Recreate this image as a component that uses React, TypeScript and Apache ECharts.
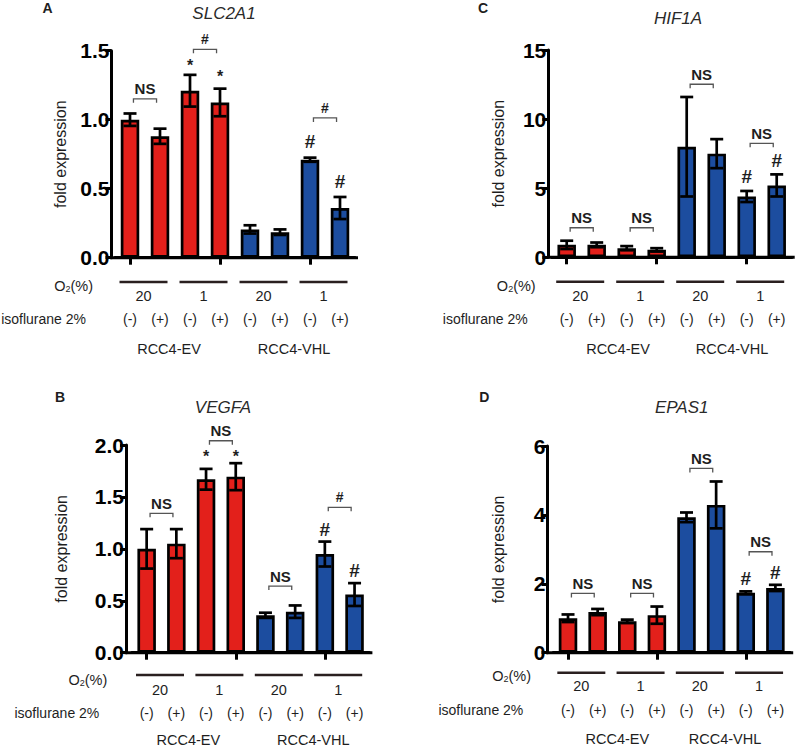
import React, { useEffect, useRef } from 'react';
import * as echarts from 'echarts';

// ---- data ----
const categories = ['EV-20-', 'EV-20+', 'EV-1-', 'EV-1+', 'VHL-20-', 'VHL-20+', 'VHL-1-', 'VHL-1+'];
const isoLabels = ['(-)', '(+)', '(-)', '(+)', '(-)', '(+)', '(-)', '(+)'];
const o2Labels = ['20', '1', '20', '1'];
const cellLines = ['RCC4-EV', 'RCC4-VHL'];

const slc2a1Mean = [1.0, 0.88, 1.21, 1.125, 0.205, 0.185, 0.71, 0.36];
const slc2a1Err = [0.045, 0.055, 0.115, 0.1, 0.03, 0.02, 0.015, 0.08];
const slc2a1Brackets: [number, number, number, string][] = [[0, 1, 1.151, 'NS'], [2, 3, 1.51, '#'], [6, 7, 1.013, '#']];
const slc2a1Marks: [number, number, string][] = [[2, 1.417, '*'], [3, 1.335, '*'], [6, 0.843, '#'], [7, 0.552, '#']];

const hif1aMean = [0.9, 0.9, 0.66, 0.54, 8.0, 7.5, 4.4, 5.2];
const hif1aErr = [0.3, 0.17, 0.15, 0.12, 3.6, 1.05, 0.4, 0.8];
const hif1aBrackets: [number, number, number, string][] = [[0, 1, 2.14, 'NS'], [2, 3, 2.14, 'NS'], [4, 5, 12.52, 'NS'], [6, 7, 8.25, 'NS']];
const hif1aMarks: [number, number, string][] = [[6, 5.83, '#'], [7, 6.99, '#']];

const vegfaMean = [1.0, 1.05, 1.67, 1.695, 0.36, 0.395, 0.95, 0.56];
const vegfaErr = [0.19, 0.14, 0.1, 0.13, 0.025, 0.06, 0.12, 0.11];
const vegfaBrackets: [number, number, number, string][] = [[0, 1, 1.342, 'NS'], [2, 3, 2.041, 'NS'], [4, 5, 0.642, 'NS'], [6, 7, 1.4, '#']];
const vegfaMarks: [number, number, string][] = [[2, 1.92, '*'], [3, 1.92, '*'], [6, 1.191, '#'], [7, 0.796, '#']];

const epas1Mean = [1.0, 1.18, 0.91, 1.09, 3.93, 4.29, 1.74, 1.88];
const epas1Err = [0.11, 0.09, 0.05, 0.25, 0.14, 0.68, 0.04, 0.09];
const epas1Brackets: [number, number, number, string][] = [[0, 1, 1.72, 'NS'], [2, 3, 1.72, 'NS'], [4, 5, 5.35, 'NS'], [6, 7, 2.93, 'NS']];
const epas1Marks: [number, number, string][] = [[6, 2.16, '#'], [7, 2.32, '#']];

// ---- layout / style ----
const RED = '#e3201b';
const BLUE = '#1c4d9f';
const FONT = 'Liberation Sans, Arial, Helvetica, sans-serif';
const TXT = '#1e1e1e';

const panels = [
  {
    letter: 'A', title: 'SLC2A1', mean: slc2a1Mean, err: slc2a1Err, brackets: slc2a1Brackets, marks: slc2a1Marks,
    max: 1.5, interval: 0.5, decimals: 1,
    axisX: 111.5, left: 115, width: 240, top: 50.7, bottom: 257.7, nameGap: 43,
    letterPos: [47.5, 7.5], titlePos: [224, 13],
    sepY: 282, numY: 296, o2: [93, 286], isoY: 319, isoRight: 86, rccY: 349, rccX: [169, 294],
  },
  {
    letter: 'C', title: 'HIF1A', mean: hif1aMean, err: hif1aErr, brackets: hif1aBrackets, marks: hif1aMarks,
    max: 15, interval: 5, decimals: 0,
    axisX: 548.3, left: 551.7, width: 240, top: 50, bottom: 257.3, nameGap: 42,
    letterPos: [483, 7.5], titlePos: [678, 18],
    sepY: 281.7, numY: 295.7, o2: [535.7, 285.7], isoY: 319.3, isoRight: 527.7, rccY: 349, rccX: [618, 732],
  },
  {
    letter: 'B', title: 'VEGFA', mean: vegfaMean, err: vegfaErr, brackets: vegfaBrackets, marks: vegfaMarks,
    max: 2.0, interval: 0.5, decimals: 1,
    axisX: 126, left: 131.8, width: 237.6, top: 445, bottom: 652.7, nameGap: 57,
    letterPos: [60, 396.7], titlePos: [223, 407.7],
    sepY: 675, numY: 690, o2: [107.3, 680], isoY: 713.3, isoRight: 99.3, rccY: 740, rccX: [188.3, 313.3],
  },
  {
    letter: 'D', title: 'EPAS1', mean: epas1Mean, err: epas1Err, brackets: epas1Brackets, marks: epas1Marks,
    max: 6, interval: 2, decimals: 0,
    axisX: 547.5, left: 553.2, width: 237, top: 446, bottom: 652.7, nameGap: 41,
    letterPos: [484.3, 396.7], titlePos: [681.7, 407.7],
    sepY: 672.7, numY: 686, o2: [531, 676], isoY: 710, isoRight: 523.3, rccY: 739, rccX: [617.3, 725],
  },
];

function buildOption() {
  const grid: any[] = [];
  const xAxis: any[] = [];
  const yAxis: any[] = [];
  const series: any[] = [];
  const graphic: any[] = [];

  panels.forEach((p, k) => {
    const spacing = p.width / 8;
    const cx = (i: number) => p.left + spacing * (i + 0.5);
    grid.push({ left: p.left, top: p.top, width: p.width, height: p.bottom - p.top });
    xAxis.push({
      gridIndex: k, type: 'category', data: categories,
      axisLine: { show: true, lineStyle: { color: '#000', width: 3 } },
      axisTick: { show: true, alignWithLabel: true, length: 7, lineStyle: { color: '#000', width: 3 } },
      axisLabel: { show: false }, splitLine: { show: false },
    });
    yAxis.push({
      gridIndex: k, type: 'value', min: 0, max: p.max, interval: p.interval,
      offset: p.left - p.axisX,
      name: 'fold expression', nameLocation: 'middle', nameGap: p.nameGap,
      nameTextStyle: { fontSize: 16, color: TXT, fontFamily: FONT },
      axisLine: { show: true, lineStyle: { color: '#000', width: 3 } },
      axisTick: { show: true, length: 6, lineStyle: { color: '#000', width: 3 } },
      axisLabel: {
        fontSize: 21, fontWeight: 'bold', color: '#000', margin: 2, fontFamily: FONT,
        formatter: (v: number) => v.toFixed(p.decimals),
      },
      splitLine: { show: false },
    });

    series.push({
      type: 'bar', xAxisIndex: k, yAxisIndex: k, barWidth: 18.5, z: 2,
      data: p.mean.map((v, i) => ({ value: v, itemStyle: { color: i < 4 ? RED : BLUE } })),
      itemStyle: { borderColor: '#000', borderWidth: 2.7 },
    });

    const errData = p.mean.map((v, i) => [i, v, p.err[i]]);
    series.push({
      type: 'custom', xAxisIndex: k, yAxisIndex: k, z: 3, data: errData,
      renderItem: (params: any, api: any) => {
        const i = api.value(0), v = api.value(1), e = api.value(2);
        const t = api.coord([i, v + e]);
        const b = api.coord([i, v - e]);
        const hw = 6.5;
        const st = { stroke: '#000', lineWidth: 2.7 };
        return {
          type: 'group', children: [
            { type: 'line', shape: { x1: t[0], y1: t[1], x2: b[0], y2: b[1] }, style: st },
            { type: 'line', shape: { x1: t[0] - hw, y1: t[1], x2: t[0] + hw, y2: t[1] }, style: st },
            { type: 'line', shape: { x1: b[0] - hw, y1: b[1], x2: b[0] + hw, y2: b[1] }, style: st },
          ],
        };
      },
    });

    const br = p.brackets;
    series.push({
      type: 'custom', xAxisIndex: k, yAxisIndex: k, z: 4, clip: false,
      data: br.map((b) => [b[0], b[1], b[2]]),
      renderItem: (params: any, api: any) => {
        const b = br[params.dataIndex];
        const a = api.coord([b[0], b[2]]);
        const c = api.coord([b[1], b[2]]);
        const mid = (a[0] + c[0]) / 2;
        const half = (c[0] - a[0]) * 0.385;
        const y = a[1];
        const st = { stroke: '#555', lineWidth: 1.3, fill: 'none' };
        const isNS = b[3] === 'NS';
        return {
          type: 'group', children: [
            { type: 'polyline', shape: { points: [[mid - half, y + 4], [mid - half, y], [mid + half, y], [mid + half, y + 4]] }, style: st },
            {
              type: 'text', x: mid, y: y - 10,
              style: {
                text: b[3], fill: TXT, align: 'center', verticalAlign: 'middle',
                font: `bold ${isNS ? 15 : 14}px ${FONT}`,
              },
            },
          ],
        };
      },
    });

    const mk = p.marks;
    series.push({
      type: 'custom', xAxisIndex: k, yAxisIndex: k, z: 4, clip: false,
      data: mk.map((m) => [m[0], m[1]]),
      renderItem: (params: any, api: any) => {
        const m = mk[params.dataIndex];
        const pt = api.coord([m[0], m[1]]);
        const star = m[2] === '*';
        return {
          type: 'text', x: pt[0], y: pt[1] + (star ? 3.5 : 0),
          style: {
            text: m[2], fill: TXT, align: 'center', verticalAlign: 'middle',
            font: `bold ${star ? 16 : 19}px ${FONT}`,
          },
        };
      },
    });

    // extend x axis line to the y axis and slightly past the last bar
    graphic.push({
      type: 'line', shape: { x1: p.axisX - 1.5, y1: p.bottom, x2: p.left + p.width + 3, y2: p.bottom },
      style: { stroke: '#000', lineWidth: 3 }, z: 1,
    });

    // panel letter & gene title
    graphic.push({
      type: 'text', x: p.letterPos[0], y: p.letterPos[1],
      style: { text: p.letter, font: `bold 14px ${FONT}`, fill: TXT, align: 'center', verticalAlign: 'middle' },
    });
    graphic.push({
      type: 'text', x: p.titlePos[0], y: p.titlePos[1],
      style: { text: p.title, font: `italic 17px ${FONT}`, fill: '#2a2a2a', align: 'center', verticalAlign: 'middle' },
    });

    // O2 row
    graphic.push({
      type: 'text', x: p.o2[0], y: p.o2[1],
      style: {
        text: '{a|O}{b|2}{a|(%)}', align: 'right', verticalAlign: 'middle', fill: TXT,
        rich: {
          a: { fontSize: 14.5, fontFamily: FONT, fill: TXT },
          b: { fontSize: 9, fontFamily: FONT, fill: TXT, padding: [6, 0, 0, 0] },
        },
      },
    });
    o2Labels.forEach((lab, g) => {
      const mid = (cx(2 * g) + cx(2 * g + 1)) / 2 - 1.5;
      graphic.push({
        type: 'line', shape: { x1: mid - 24, y1: p.sepY, x2: mid + 24, y2: p.sepY },
        style: { stroke: '#2a2020', lineWidth: 2.6 },
      });
      graphic.push({
        type: 'text', x: mid, y: p.numY,
        style: { text: lab, font: `14.5px ${FONT}`, fill: TXT, align: 'center', verticalAlign: 'middle' },
      });
    });

    // isoflurane row
    graphic.push({
      type: 'text', x: p.isoRight, y: p.isoY,
      style: { text: 'isoflurane 2%', font: `14px ${FONT}`, fill: TXT, align: 'right', verticalAlign: 'middle' },
    });
    isoLabels.forEach((lab, i) => {
      graphic.push({
        type: 'text', x: cx(i), y: p.isoY,
        style: { text: lab, font: `14px ${FONT}`, fill: TXT, align: 'center', verticalAlign: 'middle' },
      });
    });

    // cell lines
    cellLines.forEach((lab, j) => {
      graphic.push({
        type: 'text', x: p.rccX[j], y: p.rccY,
        style: { text: lab, font: `14.5px ${FONT}`, fill: TXT, align: 'center', verticalAlign: 'middle' },
      });
    });
  });

  return {
    animation: false,
    backgroundColor: '#ffffff',
    textStyle: { fontFamily: FONT },
    grid, xAxis, yAxis, series, graphic,
  };
}

export default function App() {
  const ref = useRef<HTMLDivElement>(null);
  useEffect(() => {
    if (!ref.current) return;
    const chart = echarts.init(ref.current, undefined, { renderer: 'svg' });
    chart.setOption(buildOption() as any);
    return () => chart.dispose();
  }, []);
  return (
    <div
      ref={ref}
      style={{ position: 'absolute', left: 0, top: 0, width: 796, height: 748, background: '#fff' }}
    />
  );
}
